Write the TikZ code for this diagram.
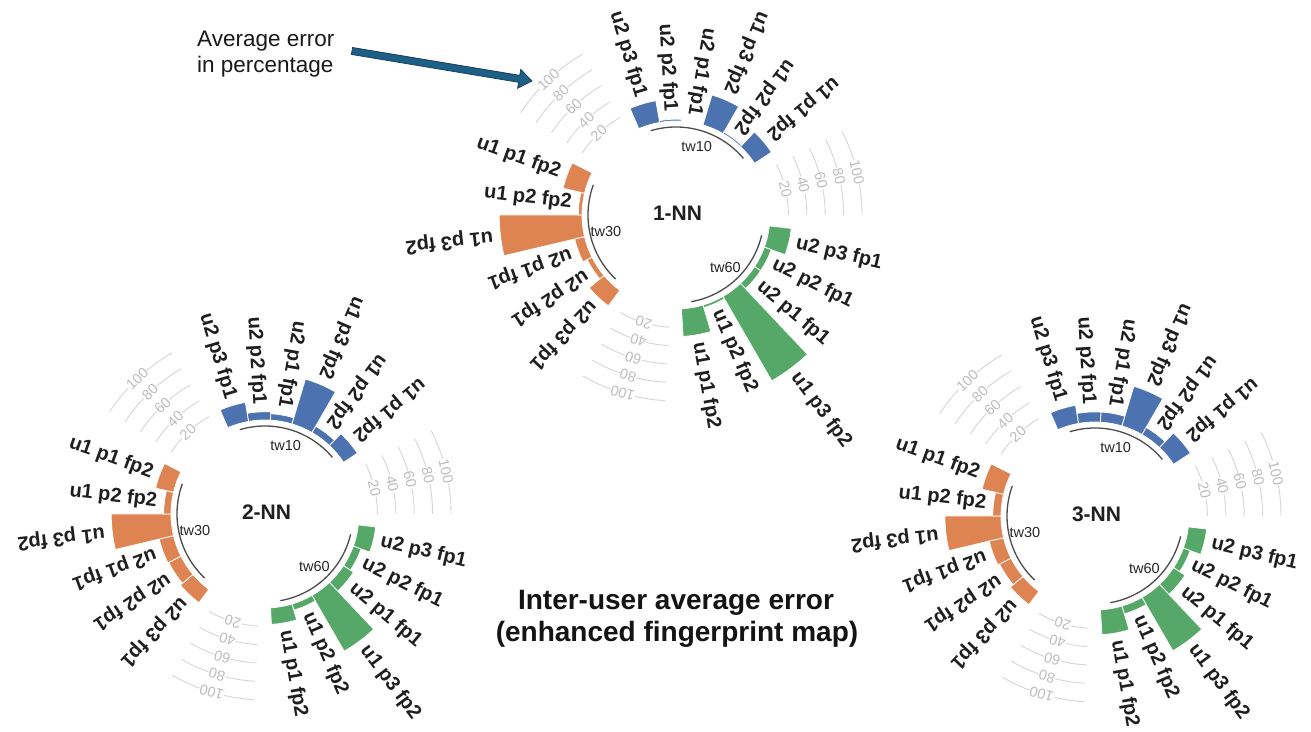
\documentclass[tikz,border=0pt]{standalone}
\usepackage{fontspec}
\setmainfont{Liberation Sans}
\usetikzlibrary{calc}
\definecolor{cblue}{HTML}{4C72B0}
\definecolor{corange}{HTML}{DD8452}
\definecolor{cgreen}{HTML}{55A868}
\definecolor{arrfill}{HTML}{1E5F86}
\definecolor{arredge}{HTML}{173F5F}
\definecolor{gridc}{HTML}{D6D6D6}
\definecolor{gridt}{HTML}{BDBDBD}
\tikzset{
  barlab/.style={font=\fontsize{20}{20}\selectfont\bfseries, text=black!88, inner sep=0pt},
  gridlab/.style={font=\fontsize{14.5}{14.5}\selectfont, text=gridt, inner sep=0.6pt, fill=white},
  gridarc/.style={draw=gridc, line width=0.9pt},
  basearc/.style={draw=black!70, line width=1.3pt},
  grplab/.style={font=\fontsize{14.5}{14.5}\selectfont, text=black!85, inner sep=0pt},
  plottitle/.style={font=\fontsize{21}{21}\selectfont\bfseries, text=black!88, inner sep=0pt},
  barshape/.style={draw=white, line width=0.8pt, line join=miter},
  maintitle/.style={font=\fontsize{28}{33}\selectfont\bfseries, text=black!92, inner sep=0pt},
  annot/.style={font=\fontsize{22.5}{26}\selectfont, text=black!90, inner sep=0pt},
  arrowshape/.style={fill=arrfill, draw=arredge, line width=0.8pt, line join=miter},
}
\newcommand{\drawgroup}[6]{%
  \foreach \lab [count=\i from 0] in {u2 p3 fp1,u2 p2 fp1,u2 p1 fp1,u1 p3 fp2,u1 p2 fp2,u1 p1 fp2}{%
    \pgfmathsetmacro\bv{{#4}[\i]}%
    \pgfmathsetmacro\ang{#3-13.3333*\i}%
    \pgfmathsetmacro\angA{\ang+6.6667}%
    \pgfmathsetmacro\angB{\ang-6.6667}%
    \pgfmathsetmacro\rout{\rz+\kk*\bv}%
    \pgfmathsetmacro\rlab{\rz+\kk*(\bv+8)}%
    \ifdim\bv pt>0pt
      \path[fill=#2, barshape] (\angA:\rz) arc[start angle=\angA, end angle=\angB, radius=\rz] -- (\angB:\rout) arc[start angle=\angB, end angle=\angA, radius=\rout] -- cycle;
    \fi
    \pgfmathtruncatemacro\up{\ang<180 ? 1 : 0}%
    \ifnum\up=1
      \pgfmathsetmacro\rot{\ang+180}%
      \node[barlab, rotate=\rot, anchor=east] (#1-#6-\i) at (\ang:\rlab) {\lab};
    \else
      \node[barlab, rotate=\ang, anchor=west] (#1-#6-\i) at (\ang:\rlab) {\lab};
    \fi
  }%
  \pgfmathsetmacro\grpA{#3}\pgfmathsetmacro\grpB{#3-66.6667}\pgfmathsetmacro\grpM{#3-33.3333}%
  \pgfmathsetmacro\rbase{\rz-6}\pgfmathsetmacro\rname{\rz-22}%
  \draw[basearc] (\grpA:\rbase) arc[start angle=\grpA, end angle=\grpB, radius=\rbase];
  \node[grplab] (#1-#6-name) at (\grpM:\rname) {#5};
}
\newcommand{\drawgrid}[3]{%
  \pgfmathsetmacro\gridS{#2+13.3333}\pgfmathsetmacro\gridE{#2-13.3333}\pgfmathsetmacro\gridR{#2-90}%
  \foreach \val in {20,40,60,80,100}{%
    \pgfmathsetmacro\rr{\rz+\kk*\val}%
    \draw[gridarc] (\gridS:\rr) arc[start angle=\gridS, end angle=\gridE, radius=\rr];
    \node[gridlab, rotate=\gridR] (#1-g#3-\val) at (#2:\rr) {\val};
  }%
}
\newcommand{\circplot}[8]{%
  \begin{scope}[shift={(#2,#3)}]
    \pgfmathsetmacro\rz{94*#4}\pgfmathsetmacro\kk{0.92*#4}%
    \drawgrid{#1}{13.3333}{a}
    \drawgrid{#1}{133.3333}{b}
    \drawgrid{#1}{253.3333}{c}
    \drawgroup{#1}{cblue}{106.6667}{#6}{tw10}{a}
    \drawgroup{#1}{corange}{226.6667}{#7}{tw30}{b}
    \drawgroup{#1}{cgreen}{346.6667}{#8}{tw60}{c}
    \node[plottitle] (#1-title) at (1.5,2) {#5};
  \end{scope}
}
\begin{document}
\begin{tikzpicture}[x=1pt,y=1pt]
  \useasboundingbox (0,0) rectangle (1311,731);
  \fill[white] (0,0) rectangle (1311,731);
  \circplot{nnA}{676}{516}{1}{1-NN}{24,2,0,34,2,22}{21,6,11,90,4,24}{24,8,8,106,3,30}
  \circplot{nnB}{265}{217}{1}{2-NN}{21,9,7,51,8,18}{18,15,16,65,8,20}{19,9,13,70,7,18}
  \circplot{nnC}{1095}{215}{1}{3-NN}{20,11,11,45,9,22}{18,14,16,61,9,24}{20,8,15,67,9,27}
  \node[maintitle, anchor=base] (title1) at (676,121.7) {Inter-user average error};
  \node[maintitle, anchor=base] (title2) at (677,89.3) {(enhanced fingerprint map)};
  \node[annot, anchor=base west] (avg1) at (197,684) {Average error};
  \node[annot, anchor=base west] (avg2) at (197,658) {in percentage};
  \coordinate (atail) at (352,680);
  \coordinate (atip) at (532,650);
  \coordinate (ahb) at ($(atip)!13pt!(atail)$);
  \path[arrowshape] ($(atail)!3.5pt!90:(atip)$) -- ($(ahb)!3.5pt!90:(atip)$) -- ($(ahb)!9.5pt!90:(atip)$) -- (atip) -- ($(ahb)!9.5pt!-90:(atip)$) -- ($(ahb)!3.5pt!-90:(atip)$) -- ($(atail)!3.5pt!-90:(atip)$) -- cycle;
\end{tikzpicture}
\end{document}
